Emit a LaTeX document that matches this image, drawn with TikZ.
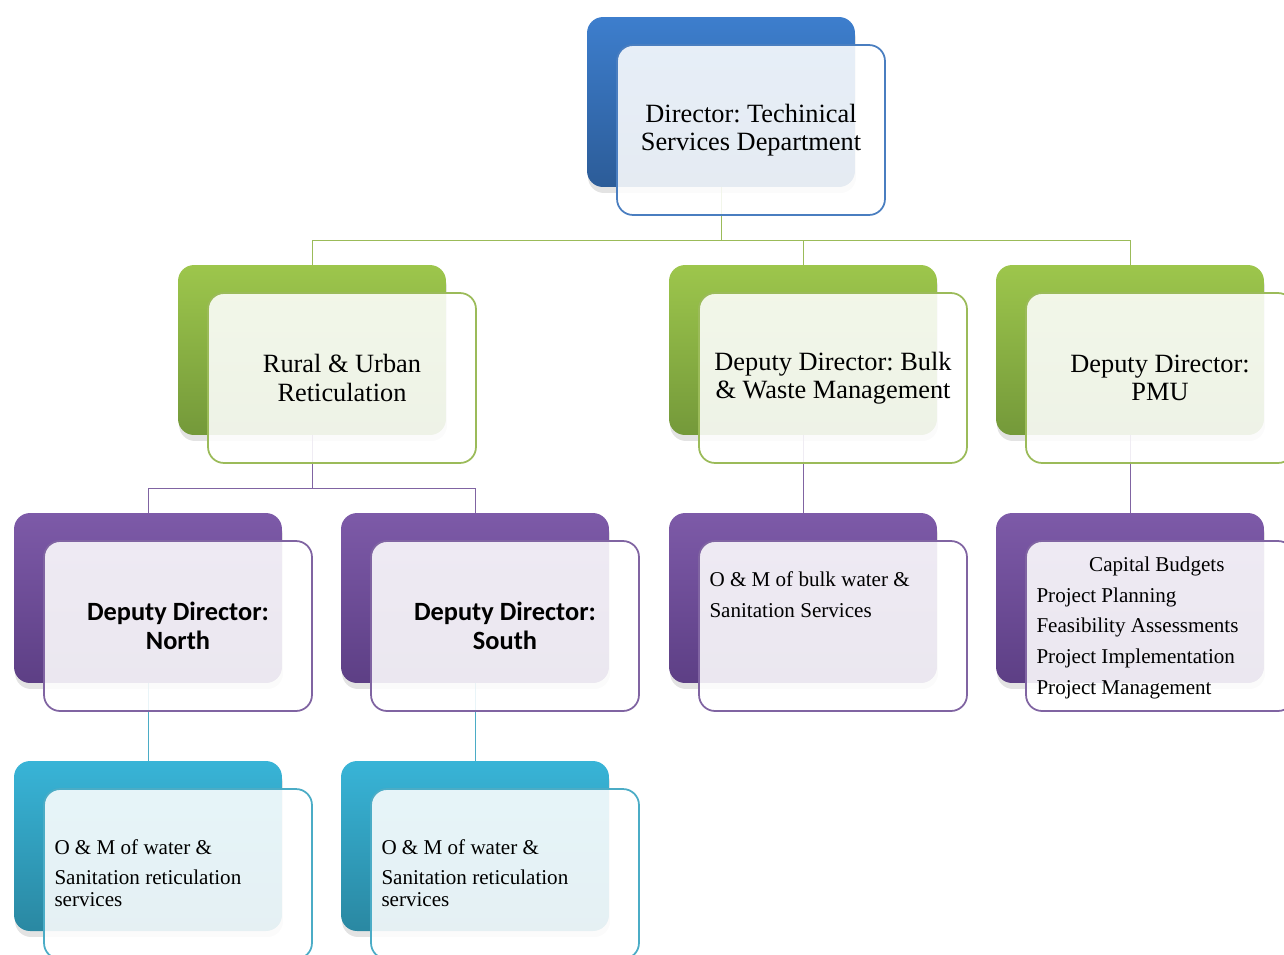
\documentclass[tikz,border=0pt]{standalone}
\usepackage{fontspec}
\setmainfont{Liberation Serif}
\newfontfamily\calibri{Carlito}
\usetikzlibrary{shadows,backgrounds}
\frenchspacing

\definecolor{blueTop}{HTML}{3D7ECD}
\definecolor{blueBot}{HTML}{2C5C98}
\definecolor{blueLine}{HTML}{4A7EC0}
\definecolor{greenTop}{HTML}{9DC64C}
\definecolor{greenBot}{HTML}{74993A}
\definecolor{greenLine}{HTML}{9BBB59}
\definecolor{purpleTop}{HTML}{7D5AA8}
\definecolor{purpleBot}{HTML}{5D3F85}
\definecolor{purpleLine}{HTML}{8064A2}
\definecolor{cyanTop}{HTML}{38B4D7}
\definecolor{cyanBot}{HTML}{2A88A2}
\definecolor{cyanLine}{HTML}{4BACC6}

\begin{document}
\begin{tikzpicture}[x=0.02cm,y=-0.02cm]
\tikzstyle{back}=[rounded corners=0.32cm,minimum width=5.36cm,minimum height=3.4cm,
  drop shadow={shadow xshift=0.02cm,shadow yshift=-0.12cm,opacity=0.22}]
\tikzstyle{front}=[draw,line width=1pt,rounded corners=0.32cm,minimum width=5.36cm,minimum height=3.4cm,
  fill=white,fill opacity=0.88,text opacity=1,align=center,font=\fontsize{15}{16}\selectfont]
\tikzstyle{bluebox}=[back,top color=blueTop,bottom color=blueBot]
\tikzstyle{greenbox}=[back,top color=greenTop,bottom color=greenBot]
\tikzstyle{purplebox}=[back,top color=purpleTop,bottom color=purpleBot]
\tikzstyle{cyanbox}=[back,top color=cyanTop,bottom color=cyanBot]
\tikzstyle{bold}=[font=\calibri\bfseries\fontsize{15}{16.4}\selectfont]
\tikzstyle{small}=[inner sep=0pt,anchor=north west,align=left,font=\fontsize{12}{17.6}\selectfont]
\path[use as bounding box,clip] (0,0) rectangle (1284,954);

% back boxes
\node[bluebox] (dirB) at (721,102) {};
\node[greenbox] (rurB) at (312,350) {};
\node[greenbox] (bulkB) at (803,350) {};
\node[greenbox] (pmuB) at (1130,350) {};
\node[purplebox] (northB) at (148,598) {};
\node[purplebox] (southB) at (475,598) {};
\node[purplebox] (bwatB) at (803,598) {};
\node[purplebox] (capB) at (1130,598) {};
\node[cyanbox] (nomB) at (148,846) {};
\node[cyanbox] (somB) at (475,846) {};

% front boxes
\node[front,draw=blueLine] (dir) at ([shift={(30,28)}]dirB.center) {Director: Techinical\\Services Department};
\node[front,draw=greenLine] (rur) at ([shift={(30,28)}]rurB.center) {Rural \& Urban\\Reticulation};
\node[front,draw=greenLine] (bulk) at ([shift={(30,28)}]bulkB.center) {Deputy Director: Bulk\\\& Waste Management};
\node[front,draw=greenLine] (pmu) at ([shift={(30,28)}]pmuB.center) {Deputy Director:\\PMU};
\node[front,bold,draw=purpleLine] (north) at ([shift={(30,28)}]northB.center) {Deputy Director:\\North};
\node[front,bold,draw=purpleLine] (south) at ([shift={(30,28)}]southB.center) {Deputy Director:\\South};
\node[front,draw=purpleLine] (bwat) at ([shift={(30,28)}]bwatB.center) {};
\node[front,draw=purpleLine] (cap) at ([shift={(30,28)}]capB.center) {};
\node[front,draw=cyanLine] (nom) at ([shift={(30,28)}]nomB.center) {};
\node[front,draw=cyanLine] (som) at ([shift={(30,28)}]somB.center) {};

\node[small] (bwatT) at ([shift={(11,31)}]bwat.north west) {O \& M of bulk water \&\\Sanitation Services};
\node[small] (capT) at ([shift={(11,16)}]cap.north west)
  {\hspace*{30pt}Capital Budgets\\Project Planning\\Feasibility Assessments\\Project Implementation\\Project Management};
\node[small] (nomT) at ([shift={(11,51)}]nom.north west)
  {O \& M of water \&\\[-0.4pt]Sanitation reticulation\\[-5pt]services};
\node[small] (somT) at ([shift={(11,51)}]som.north west)
  {O \& M of water \&\\[-0.4pt]Sanitation reticulation\\[-5pt]services};

\coordinate (bus1) at (0,240);
\coordinate (bus2) at (0,488);
\begin{scope}[on background layer,line width=1pt]
\draw[greenLine] (dirB.south) -- (dirB.south |- bus1) -| (rurB.north);
\draw[greenLine] (dirB.south |- bus1) -| (bulkB.north);
\draw[greenLine] (dirB.south |- bus1) -| (pmuB.north);
\draw[purpleLine] (rurB.south) -- (rurB.south |- bus2) -| (northB.north);
\draw[purpleLine] (rurB.south |- bus2) -| (southB.north);
\draw[purpleLine] (bulkB.south) -- (bwatB.north);
\draw[purpleLine] (pmuB.south) -- (capB.north);
\draw[cyanLine] (northB.south) -- (nomB.north);
\draw[cyanLine] (southB.south) -- (somB.north);
\end{scope}
\end{tikzpicture}
\end{document}
